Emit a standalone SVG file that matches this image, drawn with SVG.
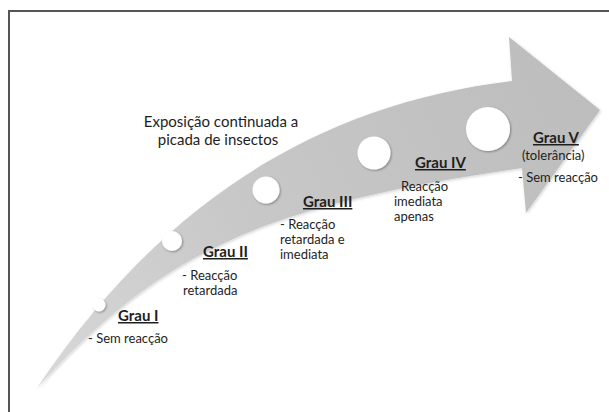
<svg xmlns="http://www.w3.org/2000/svg" width="609" height="412" viewBox="0 0 609 412">
<defs>
<linearGradient id="arrowGrad" gradientUnits="userSpaceOnUse" x1="37" y1="390" x2="600" y2="110">
<stop offset="0" stop-color="#d8d8d8"/>
<stop offset="0.4" stop-color="#c8c8c8"/>
<stop offset="1" stop-color="#bdbdbd"/>
</linearGradient>
<filter id="soft" x="-10%" y="-10%" width="120%" height="120%">
<feGaussianBlur in="SourceAlpha" stdDeviation="1.5"/>
<feOffset dx="0.5" dy="1" result="b"/>
<feFlood flood-color="#000" flood-opacity="0.18"/>
<feComposite in2="b" operator="in"/>
<feMerge><feMergeNode/><feMergeNode in="SourceGraphic"/></feMerge>
</filter>
<filter id="dot" x="-30%" y="-30%" width="160%" height="160%">
<feGaussianBlur in="SourceAlpha" stdDeviation="1.2"/>
<feOffset dx="0.8" dy="1.2" result="b"/>
<feFlood flood-color="#000" flood-opacity="0.35"/>
<feComposite in2="b" operator="in"/>
<feMerge><feMergeNode/><feMergeNode in="SourceGraphic"/></feMerge>
</filter>
</defs>
<style>
text{font-family:Lato,"Open Sans","Liberation Sans",sans-serif;font-size:13px;fill:#1e1e1e}
.g{font-weight:bold;text-decoration:underline;font-size:15px}
.t{font-size:15px}
.dot{fill:#ffffff;filter:url(#dot)}
.frame{stroke:#555;stroke-width:2;fill:none}
</style>
<rect width="609" height="412" fill="#ffffff"/>
<path class="frame" d="M9,413 V11 H610"/>
<g id="connectors">
<path id="arrow" filter="url(#soft)" fill="url(#arrowGrad)" d="M37,388 C157,208 312,105 512,81 L509,37 L600,110 L526,213 L522,168 C272,205 167,245 37,388 Z"/>
</g>
<g id="title">
<text class="t" x="221" y="127" text-anchor="middle">Exposição continuada a</text>
<text class="t" x="218" y="145" text-anchor="middle">picada de insectos</text>
</g>
<g id="grau1">
<circle class="dot" cx="99" cy="305" r="6.5"/>
<text class="g" x="118" y="321">Grau I</text>
<text x="88" y="343">- Sem reacção</text>
</g>
<g id="grau2">
<circle class="dot" cx="172" cy="241" r="10"/>
<text class="g" x="203" y="257">Grau II</text>
<text x="182" y="280">- Reacção</text>
<text x="183" y="295">retardada</text>
</g>
<g id="grau3">
<circle class="dot" cx="266" cy="190" r="13.5"/>
<text class="g" x="303" y="207">Grau III</text>
<text x="280" y="229">- Reacção</text>
<text x="280" y="244">retardada e</text>
<text x="280" y="259">imediata</text>
</g>
<g id="grau4">
<circle class="dot" cx="374" cy="153" r="16.5"/>
<text class="g" x="415" y="168">Grau IV</text>
<text x="401" y="191">Reacção</text>
<text x="394" y="206">imediata</text>
<text x="394" y="221">apenas</text>
</g>
<g id="grau5">
<circle class="dot" cx="488" cy="129" r="22"/>
<text class="g" x="533" y="143">Grau V</text>
<text x="522" y="160">(tolerância)</text>
<text x="518" y="182">- Sem reacção</text>
</g>
</svg>
